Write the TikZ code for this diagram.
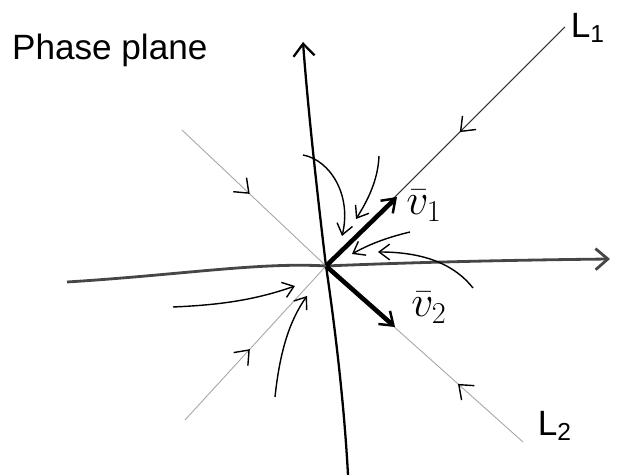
\documentclass[tikz,border=0pt]{standalone}
\usepackage{amsmath}
\usepackage{fontspec}
\setmainfont{Liberation Sans}
\usetikzlibrary{arrows.meta,decorations.markings}

\tikzset{
    axisline/.style={line width=1.3pt, black},
    eigline/.style={line width=0.5pt, gray!70},
    traj/.style={line width=0.8pt, black, -{Straight Barb[length=6pt,width=9pt]}},
    eigvec/.style={line width=2.6pt, black, -{Straight Barb[length=7pt,width=10pt,line width=1.4pt]}},
    midarrow/.style={postaction={decorate}, decoration={markings,
        mark=at position #1 with {\arrow[line width=0.8pt,black]{Straight Barb[length=7pt,width=11pt]}}}},
    lbl/.style={font=\fontsize{20}{22}\selectfont, inner sep=1pt}
}

\begin{document}
\begin{tikzpicture}[x=0.02cm, y=-0.02cm]
\useasboundingbox (0,0) rectangle (627,475);

% origin and ends of the lines
\coordinate (O) at (326,266);
\coordinate (ytop) at (303,42);
\coordinate (ybot) at (348,475);
\coordinate (xleft) at (67,282);
\coordinate (xright) at (610,259);
\coordinate (Lone) at (565,27);
\coordinate (Lonelow) at (185,420);
\coordinate (Ltwoup) at (182,130);
\coordinate (Ltwo) at (523,442);
\coordinate (vone) at (397,197);
\coordinate (vtwo) at (395,327);

% axes
\draw[axisline, -{Straight Barb[length=7pt,width=12pt]}]
    (ybot) .. controls (344,400) and (334,320) .. (O)
    .. controls (318,200) and (308,110) .. (ytop);
\draw[axisline, line width=1.6pt, gray!55!black, -{Straight Barb[length=7pt,width=12pt]}]
    (xleft) .. controls (180,275) and (260,262) .. (O)
    .. controls (420,262) and (520,260) .. (xright);

% eigenlines
\draw[line width=0.6pt, black!80, midarrow=0.44] (Lone) -- (O);
\draw[eigline, midarrow=0.46] (Lonelow) -- (O);
\draw[eigline, midarrow=0.47] (Ltwoup) -- (O);
\draw[eigline, midarrow=0.33] (Ltwo) -- (O);

% eigenvectors
\draw[eigvec] (O) -- (vone);
\draw[eigvec] (O) -- (vtwo);

% trajectories
\draw[traj] (173,307) .. controls (220,305) and (255,300) .. (295,286);
\draw[traj] (275,397) .. controls (280,350) and (290,320) .. (307,296);
\draw[traj] (303,155) .. controls (330,160) and (352,195) .. (342,236);
\draw[traj] (379,156) .. controls (378,180) and (368,200) .. (356,219);
\draw[traj] (410,232) .. controls (385,238) and (368,245) .. (352,254);
\draw[traj] (473,288) .. controls (455,265) and (425,252) .. (378,252);

% labels
\node[lbl, anchor=west] (title) at (10,50) {Phase plane};
\node[lbl] (labLone) at (588,28) {L\textsubscript{1}};
\node[lbl] (labLtwo) at (555,426) {L\textsubscript{2}};
\node[lbl, font=\fontsize{24}{26}\selectfont] (labvone) at (424,206) {$\bar{v}_1$};
\node[lbl, font=\fontsize{24}{26}\selectfont] (labvtwo) at (429,308) {$\bar{v}_2$};
\end{tikzpicture}
\end{document}
